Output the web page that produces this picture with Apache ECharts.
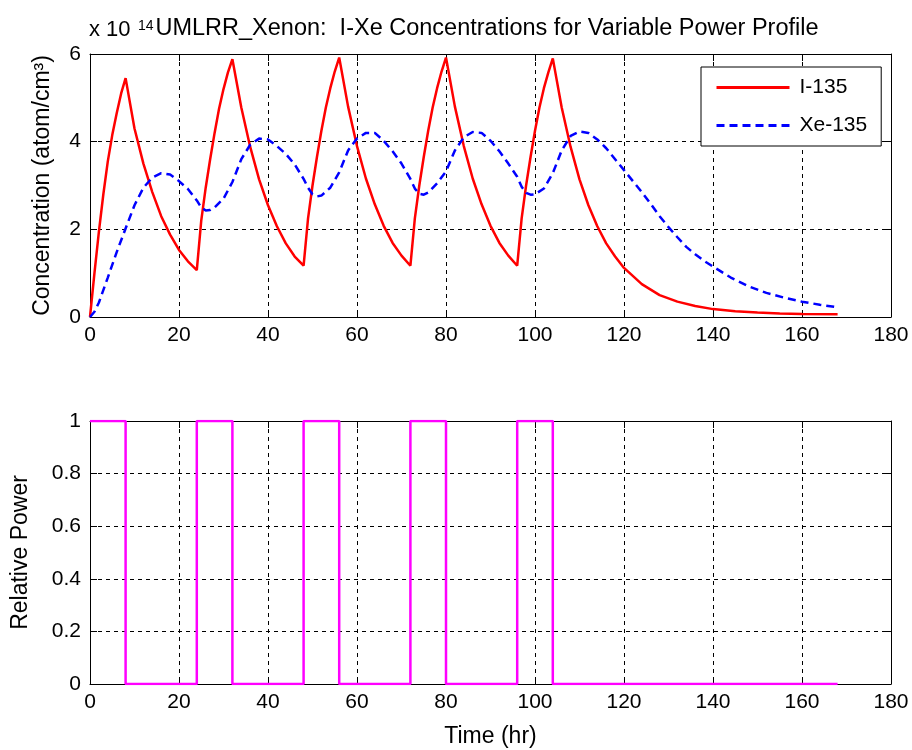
<!DOCTYPE html>
<html>
<head>
<meta charset="utf-8">
<script src="https://cdn.jsdelivr.net/npm/echarts@6/dist/echarts.min.js"></script>
<style>
    html, body {margin: 0; padding: 0; background: #fff;}
    #chart {width: 912px; height: 750px;}
</style>
</head>
<body>
<div id="chart"></div>
<script>
// I-135 concentration (x 10^14 atom/cm3)
var iTime = [0, 1, 2, 3, 4, 5, 6, 7, 8,
    10, 12, 14, 16, 18, 20, 22, 24,
    25, 26, 27, 28, 29, 30, 31, 32,
    34, 36, 38, 40, 42, 44, 46, 48,
    49, 50, 51, 52, 53, 54, 55, 56,
    58, 60, 62, 64, 66, 68, 70, 72,
    73, 74, 75, 76, 77, 78, 79, 80,
    82, 84, 86, 88, 90, 92, 94, 96,
    97, 98, 99, 100, 101, 102, 103, 104,
    106, 108, 110, 112, 114, 116, 118, 120,
    124, 128, 132, 136, 140, 145, 150, 155, 160, 168];
var iConc = [0, 1.0, 1.95, 2.8, 3.55, 4.15, 4.65, 5.1, 5.45,
    4.3, 3.5, 2.85, 2.3, 1.88, 1.53, 1.27, 1.07,
    2.2, 2.95, 3.6, 4.2, 4.75, 5.2, 5.58, 5.88,
    4.78, 3.88, 3.14, 2.55, 2.07, 1.68, 1.38, 1.17,
    2.25, 3.0, 3.65, 4.25, 4.78, 5.22, 5.6, 5.92,
    4.8, 3.9, 3.16, 2.57, 2.08, 1.69, 1.4, 1.17,
    2.25, 3.0, 3.65, 4.25, 4.78, 5.22, 5.6, 5.92,
    4.8, 3.9, 3.16, 2.57, 2.08, 1.69, 1.4, 1.17,
    2.25, 3.0, 3.65, 4.25, 4.78, 5.22, 5.58, 5.9,
    4.78, 3.88, 3.14, 2.55, 2.07, 1.68, 1.38, 1.12,
    0.75, 0.5, 0.35, 0.25, 0.18, 0.13, 0.1, 0.08, 0.07, 0.06];

// Xe-135 concentration
var xeTime = [0, 1, 2, 4, 6, 8, 10, 12, 14, 16,
    18, 20, 22, 24, 25, 26, 27, 28, 30, 32,
    34, 36, 38, 40, 42, 44, 46, 48, 49, 50,
    51, 52, 54, 56, 58, 60, 62, 64, 66, 68,
    70, 72, 73, 74, 75, 76, 78, 80, 82, 84,
    86, 88, 90, 92, 94, 96, 97, 98, 99, 100,
    102, 104, 106, 108, 110, 112, 114, 116, 118, 120,
    122, 124, 126, 128, 130, 132, 134, 136, 138, 140,
    144, 148, 152, 156, 160, 164, 168];
var xeConc = [0, 0.12, 0.33, 0.9, 1.48, 2.02, 2.55, 2.95, 3.18, 3.28,
    3.25, 3.1, 2.92, 2.66, 2.5, 2.43, 2.44, 2.5, 2.7, 3.08,
    3.6, 3.93, 4.07, 4.05, 3.9, 3.72, 3.48, 3.15, 2.95, 2.8,
    2.75, 2.77, 2.95, 3.3, 3.8, 4.07, 4.2, 4.2, 4.02, 3.78,
    3.5, 3.15, 2.93, 2.81, 2.79, 2.84, 3.05, 3.32, 3.8, 4.1,
    4.22, 4.2, 4.02, 3.78, 3.5, 3.2, 2.97, 2.83, 2.79, 2.8,
    2.93, 3.28, 3.8, 4.13, 4.23, 4.2, 4.05, 3.85, 3.6, 3.35,
    3.1, 2.85, 2.58, 2.3, 2.05, 1.82, 1.6, 1.43, 1.28, 1.15,
    0.9, 0.7, 0.55, 0.44, 0.35, 0.28, 0.22];

// power profile: 8 h on, 16 h off
var powerTime = [0, 8, 24, 32, 48, 56, 72, 80, 96, 104, 168];
var powerLevel = [1, 0, 1, 0, 1, 0, 1, 0, 1, 0, 0];

function pairs(xs, ys) {
    return xs.map(function (x, i) {
        return [x, ys[i]];
    });
}

var FONT = 'Liberation Sans, Arial, sans-serif';
var dashGrid = {show: true, lineStyle: {color: '#000', width: 1, type: [4, 4]}};

function xAx(grid, pos, withLabels, name) {
    return {
        gridIndex: grid, type: 'value', position: pos,
        min: 0, max: 180, interval: 20,
        axisLine: {show: true, onZero: false, lineStyle: {color: '#000', width: 1}},
        axisTick: {show: true, inside: true, length: 7, lineStyle: {color: '#000'}},
        axisLabel: {show: withLabels, color: '#000', fontSize: 21, fontFamily: FONT, margin: 8},
        splitLine: withLabels ? dashGrid : {show: false},
        name: name || '', nameLocation: 'middle', nameGap: 41,
        nameTextStyle: {color: '#000', fontSize: 23, fontFamily: FONT}
    };
}

function yAx(grid, pos, withLabels, max, step, name, gap) {
    return {
        gridIndex: grid, type: 'value', position: pos,
        min: 0, max: max, interval: step,
        axisLine: {show: true, onZero: false, lineStyle: {color: '#000', width: 1}},
        axisTick: {show: true, inside: true, length: 7, lineStyle: {color: '#000'}},
        axisLabel: {show: withLabels, color: '#000', fontSize: 21, fontFamily: FONT, margin: 9},
        splitLine: withLabels ? dashGrid : {show: false},
        name: name || '', nameLocation: 'middle', nameGap: gap || 0,
        nameTextStyle: {color: '#000', fontSize: 23, fontFamily: FONT}
    };
}

var chart = echarts.init(document.getElementById('chart'));
chart.setOption({
    animation: false,
    backgroundColor: '#fff',
    textStyle: {fontFamily: FONT},
    graphic: [
        {type: 'text', x: 487, y: 29, style: {text: 'UMLRR_Xenon:  I-Xe Concentrations for Variable Power Profile',
            font: '23.5px ' + FONT, fill: '#000', align: 'center', verticalAlign: 'middle'}},
        {type: 'text', x: 89, y: 30, style: {text: 'x 10', font: '22px ' + FONT, fill: '#000', verticalAlign: 'middle'}},
        {type: 'text', x: 138, y: 26, style: {text: '14', font: '14px ' + FONT, fill: '#000', verticalAlign: 'middle'}}
    ],
    grid: [
        {left: 90, right: 21, top: 54, height: 263},
        {left: 90, right: 21, top: 421, height: 263}
    ],
    legend: {
        data: ['I-135', 'Xe-135'],
        orient: 'vertical', left: 701, top: 67,
        padding: [10, 14, 10, 14],
        itemWidth: 73, itemHeight: 20, itemGap: 17,
        itemStyle: {opacity: 0},
        lineStyle: {width: 3},
        backgroundColor: '#fff', borderColor: '#000', borderWidth: 1,
        textStyle: {color: '#000', fontSize: 21, fontFamily: FONT, padding: [0, 0, 0, 5]}
    },
    xAxis: [
        xAx(0, 'bottom', true),
        xAx(0, 'top', false),
        xAx(1, 'bottom', true, 'Time (hr)'),
        xAx(1, 'top', false)
    ],
    yAxis: [
        yAx(0, 'left', true, 6, 2, 'Concentration (atom/cm\u00b3)', 36),
        yAx(0, 'right', false, 6, 2),
        yAx(1, 'left', true, 1, 0.2, 'Relative Power', 58),
        yAx(1, 'right', false, 1, 0.2)
    ],
    series: [
        {
            name: 'I-135', type: 'line', xAxisIndex: 0, yAxisIndex: 0,
            data: pairs(iTime, iConc), symbol: 'none', color: '#ff0000',
            lineStyle: {color: '#ff0000', width: 2.5}
        },
        {
            name: 'Xe-135', type: 'line', xAxisIndex: 0, yAxisIndex: 0,
            data: pairs(xeTime, xeConc), symbol: 'none', color: '#0000ff',
            lineStyle: {color: '#0000ff', width: 2.5, type: [8, 5]}
        },
        {
            name: 'Power', type: 'line', xAxisIndex: 2, yAxisIndex: 2, step: 'end',
            data: pairs(powerTime, powerLevel), symbol: 'none', color: '#ff00ff',
            lineStyle: {color: '#ff00ff', width: 2.5}
        }
    ]
});
</script>
</body>
</html>
